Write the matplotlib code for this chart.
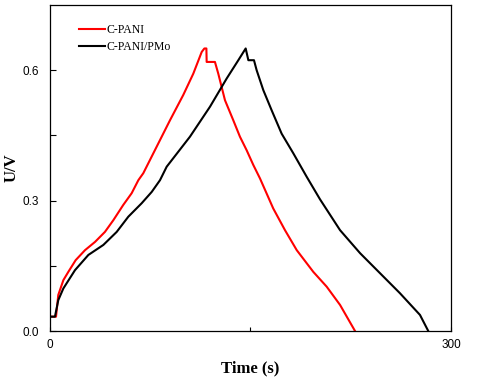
import matplotlib
matplotlib.use("Agg")
import matplotlib.pyplot as plt

# Galvanostatic charge/discharge curves
t_pani = [0, 4.5, 6.2, 10, 13.7, 19.2, 26.2, 33.7, 41.1, 47.4, 54.8, 61.1, 66.1,
          69.8, 79.8, 89.8, 99.7, 107.2, 113.5, 115.5, 117, 117.2, 123.4, 125.9,
          130.9, 137.1, 142.1, 147.1, 152.1, 157.1, 167, 175.8, 184.6, 197, 207,
          217, 228.2]
u_pani = [0.033, 0.033, 0.083, 0.117, 0.136, 0.163, 0.186, 0.205, 0.228, 0.255,
          0.29, 0.317, 0.347, 0.363, 0.424, 0.485, 0.543, 0.592, 0.642, 0.65,
          0.65, 0.619, 0.619, 0.592, 0.531, 0.485, 0.447, 0.416, 0.382, 0.351,
          0.282, 0.232, 0.186, 0.136, 0.102, 0.06, 0.0]

t_pmo = [0, 3.7, 6.2, 10, 18.7, 28.7, 39.9, 49.9, 58.6, 68.6, 76.1, 82.3, 87.3,
         104.7, 119.7, 132.2, 140.9, 146.4, 148.4, 152.6, 154.6, 159.6, 165.8,
         173.3, 182, 192, 202, 217, 232, 246.9, 261.8, 276.8, 283]
u_pmo = [0.033, 0.033, 0.071, 0.098, 0.14, 0.175, 0.198, 0.228, 0.263, 0.294,
         0.32, 0.347, 0.378, 0.447, 0.516, 0.581, 0.623, 0.65, 0.623, 0.623,
         0.6, 0.554, 0.508, 0.454, 0.409, 0.355, 0.303, 0.232, 0.179, 0.133,
         0.087, 0.037, 0.0]

fig = plt.figure(figsize=(4.78, 3.81), dpi=100)
ax = fig.add_axes([0.1046, 0.1312, 0.8389, 0.8557])

ax.plot(t_pani, u_pani, color="#ff0000", linewidth=1.5, label="C-PANI")
ax.plot(t_pmo, u_pmo, color="black", linewidth=1.5, label="C-PANI/PMo")

ax.set_xlim(0, 300)
ax.set_ylim(0, 0.75)
ax.set_xticks([0, 150, 300])
ax.set_xticklabels(["0", "", "300"])
ax.set_yticks([0.0, 0.3, 0.6])
ax.set_yticklabels(["0.0", "0.3", "0.6"])
ax.set_yticks([0.15, 0.45], minor=True)
ax.tick_params(direction="in", length=4, width=0.8, labelsize=8.5, pad=8)
ax.tick_params(axis="y", which="minor", direction="in", length=4, width=0.8)
ax.tick_params(axis="x", length=3, pad=6)
for lab in ax.get_xticklabels() + ax.get_yticklabels():
    lab.set_family("Liberation Sans")
for sp in ax.spines.values():
    sp.set_linewidth(0.9)

ax.set_xlabel("Time (s)", fontsize=12, fontweight="bold", family="Liberation Serif")
ax.set_ylabel("U/V", fontsize=12, fontweight="bold", family="Liberation Serif")
ax.xaxis.set_label_coords(0.5, -0.09)
ax.yaxis.set_label_coords(-0.075, 0.5)

ax.legend(loc="upper left", bbox_to_anchor=(0.045, 0.975), frameon=False,
          prop={"family": "Liberation Serif", "size": 8.5}, handlelength=2.2,
          handletextpad=0.15, labelspacing=0.45)

fig.savefig("out.png", dpi=100)
